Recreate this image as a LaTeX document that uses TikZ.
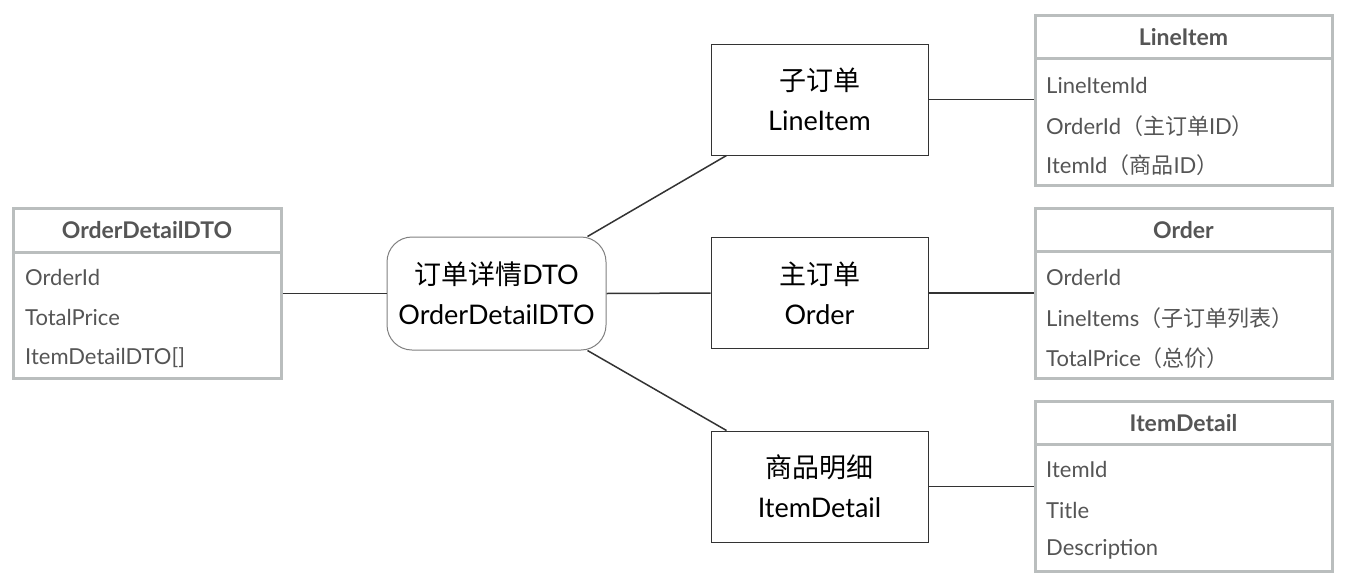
\documentclass[tikz,border=0pt]{standalone}
\usepackage{fontspec}
\setmainfont{Lato}
\newfontfamily\cjk{Noto Sans CJK SC}
\definecolor{tblgray}{HTML}{BABEBE}
\definecolor{txtgray}{HTML}{555555}
\definecolor{linec}{HTML}{333333}
\begin{document}
\begin{tikzpicture}[x=1pt,y=-1pt,
  tbl/.style={draw=tblgray, line width=3pt, fill=white, minimum width=297pt, minimum height=170pt, inner sep=0pt},
  hdr/.style={text=txtgray, font=\fontsize{23}{26}\selectfont\bfseries},
  row/.style={text=txtgray, font=\fontsize{22}{26}\selectfont, anchor=west, inner sep=0pt},
  ent/.style={draw=linec, line width=1pt, fill=white, minimum width=217pt, minimum height=111pt, align=center, font=\fontsize{27}{40}\selectfont, text=black},
  conn/.style={draw=linec, line width=1.5pt}]
\useasboundingbox (0,0) rectangle (1350,584);
% left table
\node[tbl, minimum width=268pt] (tL) at (147,293) {};
\draw[tblgray, line width=3pt] (13,252) -- (281,252);
\node[hdr] (tLh) at (147,230) {OrderDetailDTO};
\node[row] (tL1) at (25,277) {OrderId};
\node[row] (tL2) at (25,317) {TotalPrice};
\node[row] (tL3) at (25,358) {ItemDetailDTO[]};
% center
\node[ent, minimum width=219pt, minimum height=113pt, rounded corners=25pt, draw=gray, line width=1pt] (c) at (496.5,293.5) {{\cjk 订单详情}DTO\\OrderDetailDTO};
% boxes
\node[ent] (b1) at (819.5,99.5) {{\cjk 子订单}\\LineItem};
\node[ent] (b2) at (819.5,293) {{\cjk 主订单}\\Order};
\node[ent] (b3) at (819.5,486.5) {{\cjk 商品明细}\\ItemDetail};
% right tables
\node[tbl] (t1) at (1183.5,100) {};
\draw[tblgray, line width=3pt] (1035,58) -- (1332,58);
\node[hdr] (t1h) at (1183.5,37) {LineItem};
\node[row] (t11) at (1046,85) {LineItemId};
\node[row] (t12) at (1046,126) {OrderId{\cjk （主订单}ID{\cjk ）}};
\node[row] (t13) at (1046,165) {ItemId{\cjk （商品}ID{\cjk ）}};
\node[tbl] (t2) at (1183.5,293) {};
\draw[tblgray, line width=3pt] (1035,251) -- (1332,251);
\node[hdr] (t2h) at (1183.5,230) {Order};
\node[row] (t21) at (1046,277) {OrderId};
\node[row] (t22) at (1046,318) {LineItems{\cjk （子订单列表）}};
\node[row] (t23) at (1046,358) {TotalPrice{\cjk （总价）}};
\node[tbl] (t3) at (1183.5,486) {};
\draw[tblgray, line width=3pt] (1035,444) -- (1332,444);
\node[hdr] (t3h) at (1183.5,423) {ItemDetail};
\node[row] (t31) at (1046,469) {ItemId};
\node[row] (t32) at (1046,510) {Title};
\node[row] (t33) at (1046,549) {Description};
% connectors
\draw[conn] (tL.east |- c.west) -- (c.west);
\draw[conn] (c.east) -- (b2.west);
\draw[conn] ([xshift=-19pt]c.north east) -- ([xshift=16pt]b1.south west);
\draw[conn] ([xshift=-19pt]c.south east) -- ([xshift=16pt]b3.north west);
\draw[conn] (b1.east) -- (t1.west |- b1.east);
\draw[conn] (b2.east) -- (t2.west |- b2.east);
\draw[conn] (b3.east) -- (t3.west |- b3.east);
\end{tikzpicture}
\end{document}
